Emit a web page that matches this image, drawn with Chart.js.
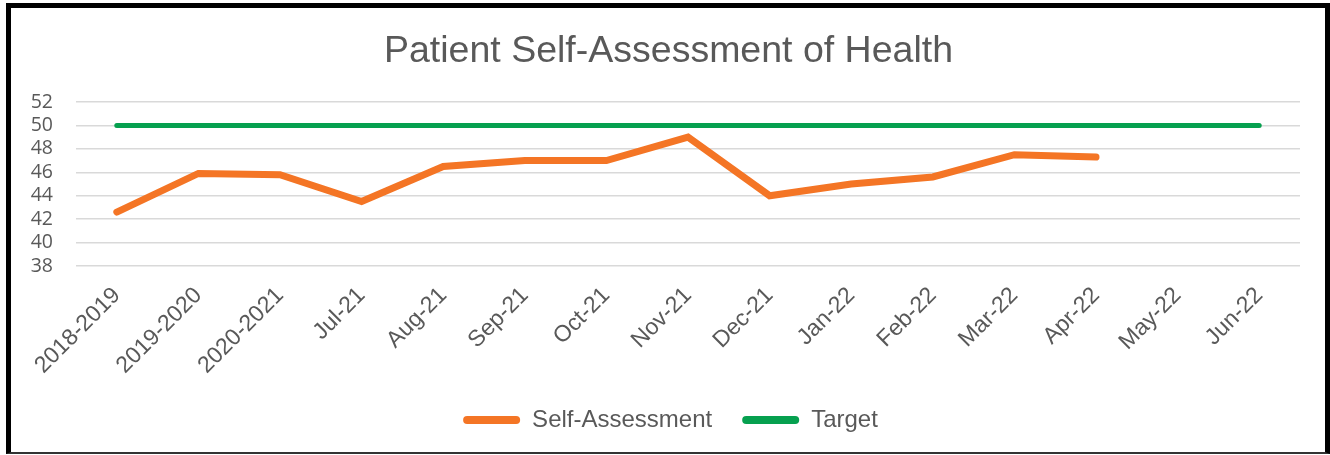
<!DOCTYPE html>
<html>
<head>
<meta charset="utf-8">
<title>Patient Self-Assessment of Health</title>
<script src="https://cdn.jsdelivr.net/npm/chart.js@4.4.1/dist/chart.umd.min.js"></script>
<style>
  body { margin: 0; background: #fff; }
  #frame {
    position: absolute;
    left: 6px;
    top: 3px;
    width: 1314px;
    height: 444px;
    border-left: 5px solid #000;
    border-top: 5px solid #000;
    border-right: 5px solid #000;
    border-bottom: 2px solid #333;
    background: #fff;
  }
  canvas { display: block; }
</style>
</head>
<body>
<div id="frame">
  <canvas id="myChart" width="1314" height="444"></canvas>
</div>
<script>
const categories = ['2018-2019', '2019-2020', '2020-2021', 'Jul-21', 'Aug-21', 'Sep-21', 'Oct-21', 'Nov-21',
  'Dec-21', 'Jan-22', 'Feb-22', 'Mar-22', 'Apr-22', 'May-22', 'Jun-22'];
const selfAssessment = [42.6, 45.9, 45.8, 43.5, 46.5, 47.0, 47.0, 49.0, 44.0, 45.0, 45.6, 47.5, 47.3, null, null];
const target = [50, 50, 50, 50, 50, 50, 50, 50, 50, 50, 50, 50, 50, 50, 50];
const yMin = 38;
const yMax = 52;
const yStep = 2;

const textColor = '#595959';
const sansFont = '"Liberation Sans", Arial, sans-serif';

// title + legend sit a bit right of the canvas centre in the original
const shiftBlocks = {
  id: 'shiftBlocks',
  afterLayout(c) {
    c.titleBlock.left += 13;
    c.titleBlock.right += 13;
    c.legend.left += 15;
    c.legend.right += 15;
  }
};

const chart = new Chart(document.getElementById('myChart'), {
  type: 'line',
  data: {
    labels: categories,
    datasets: [
      {
        label: 'Self-Assessment',
        data: selfAssessment,
        borderColor: '#f47525',
        backgroundColor: '#f47525',
        borderWidth: 7,
        borderCapStyle: 'round',
        pointRadius: 0
      },
      {
        label: 'Target',
        data: target,
        borderColor: '#06a04f',
        backgroundColor: '#06a04f',
        borderWidth: 5,
        borderCapStyle: 'round',
        pointRadius: 0
      }
    ]
  },
  plugins: [shiftBlocks],
  options: {
    responsive: false,
    animation: false,
    layout: { padding: { left: 0, right: 25, top: 0, bottom: 10 } },
    plugins: {
      title: {
        display: true,
        text: 'Patient Self-Assessment of Health',
        color: textColor,
        font: { family: sansFont, size: 37.5, weight: 'normal' },
        padding: { top: 21, bottom: 28 }
      },
      legend: {
        position: 'bottom',
        labels: {
          color: textColor,
          font: { family: sansFont, size: 24 },
          boxWidth: 57,
          boxHeight: 8,
          padding: 30,
          useBorderRadius: true,
          borderRadius: 4,
          generateLabels: (c) => {
            const items = Chart.defaults.plugins.legend.labels.generateLabels(c);
            items.forEach((item) => { item.lineWidth = 0; });
            return items;
          }
        }
      },
      tooltip: { enabled: false }
    },
    scales: {
      x: {
        offset: true,
        grid: { display: false },
        border: { display: false },
        ticks: {
          color: textColor,
          font: { family: sansFont, size: 23 },
          minRotation: 45,
          maxRotation: 45,
          autoSkip: false,
          padding: 8
        },
        afterFit: (scale) => { scale.height = 112; }
      },
      y: {
        min: yMin,
        max: yMax,
        grid: { color: '#d9d9d9', lineWidth: 1.5, drawTicks: false },
        border: { display: false },
        ticks: {
          stepSize: yStep,
          autoSkip: false,
          color: textColor,
          font: { family: '"Open Sans", sans-serif', size: 19.5 },
          padding: 23
        },
        afterFit: (scale) => { scale.width = 65; }
      }
    }
  }
});
</script>
</body>
</html>
